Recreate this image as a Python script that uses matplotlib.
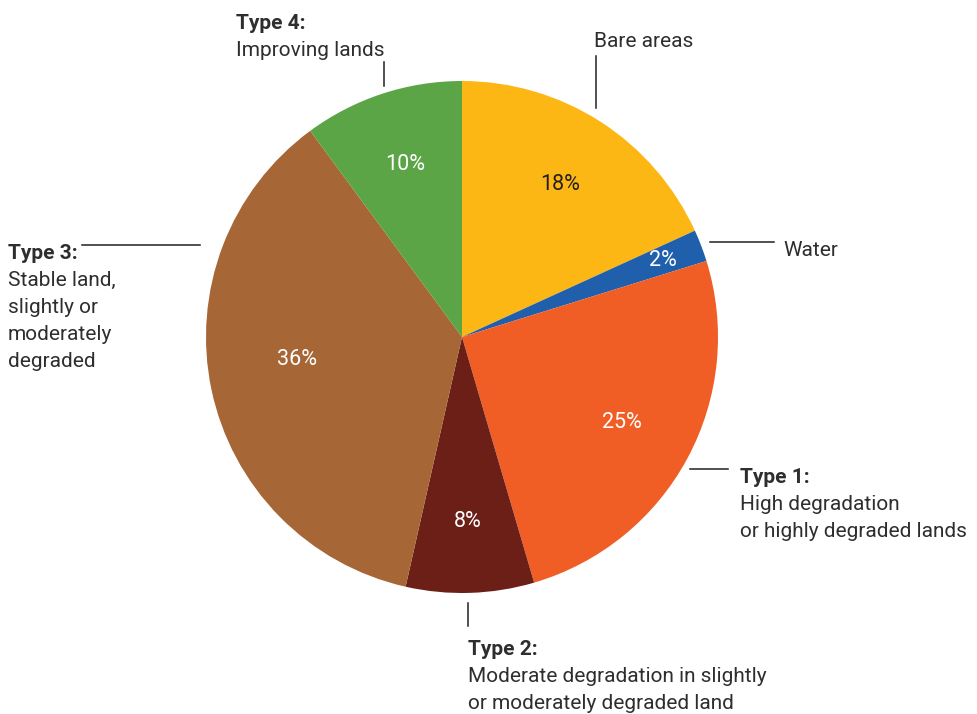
import matplotlib.pyplot as plt
import numpy as np

plt.rcParams['font.family'] = ['Roboto', 'DejaVu Sans']

# slice order: clockwise from the top
categories = ['Bare areas', 'Water', 'Type 1', 'Type 2', 'Type 3', 'Type 4']
shares = [18, 2, 25, 8, 36, 10]
pct_labels = ['18%', '2%', '25%', '8%', '36%', '10%']
colors = ['#FDB714', '#1F5FAB', '#F15E25', '#6B1F17', '#A66636', '#5BA546']
pct_colors = ['#231F20', 'white', 'white', 'white', 'white', 'white']
pct_dist = [0.71, 0.84, 0.71, 0.72, 0.65, 0.71]
pct_shift = [0, 0, 0, 0, -4, 0]  # degrees, nudges the label around the slice

W, H = 978, 714
TXT = '#2E2E2E'

fig = plt.figure(figsize=(W / 100, H / 100), dpi=100)
ax = fig.add_axes([0, 0, 1, 1])

cx, cy, r = 462, H - 337, 256
wedges, _ = ax.pie(shares, colors=colors, startangle=90, counterclock=False,
                   center=(cx, cy), radius=r, frame=True,
                   wedgeprops=dict(linewidth=0))

for w, lab, col, d, s in zip(wedges, pct_labels, pct_colors, pct_dist, pct_shift):
    mid = np.deg2rad((w.theta1 + w.theta2) / 2 + s)
    ax.text(cx + d * r * np.cos(mid), cy + d * r * np.sin(mid), lab,
            color=col, fontsize=15.5, ha='center', va='center')


def label(x, y, title, lines):
    # y values are baselines in pixels from the top
    yy = y
    if title:
        ax.text(x, H - yy, title, fontsize=15, fontweight='bold', color=TXT,
                ha='left', va='baseline')
        yy += 27
    for ln in lines:
        ax.text(x, H - yy, ln, fontsize=15, color=TXT, ha='left', va='baseline')
        yy += 27


def leader(x0, y0, x1, y1):
    ax.plot([x0, x1], [H - y0, H - y1], color='#231F20', lw=1.1)


label(236, 29, 'Type 4:', ['Improving lands'])
leader(384, 62, 384, 86)

label(594, 47, None, ['Bare areas'])
leader(596, 56, 596, 108)

label(783, 256, None, ['Water'])
leader(710, 242, 774, 242)

label(8, 259, 'Type 3:', ['Stable land,', 'slightly or', 'moderately', 'degraded'])
leader(82, 245, 200, 245)

label(740, 483, 'Type 1:', ['High degradation', 'or highly degraded lands'])
leader(690, 469, 728, 469)

label(468, 655, 'Type 2:', ['Moderate degradation in slightly',
                            'or moderately degraded land'])
leader(468, 603, 468, 626)

ax.set_xlim(0, W)
ax.set_ylim(0, H)
ax.set_aspect('equal')
ax.axis('off')

fig.savefig('out.png', dpi=100, facecolor='white')
